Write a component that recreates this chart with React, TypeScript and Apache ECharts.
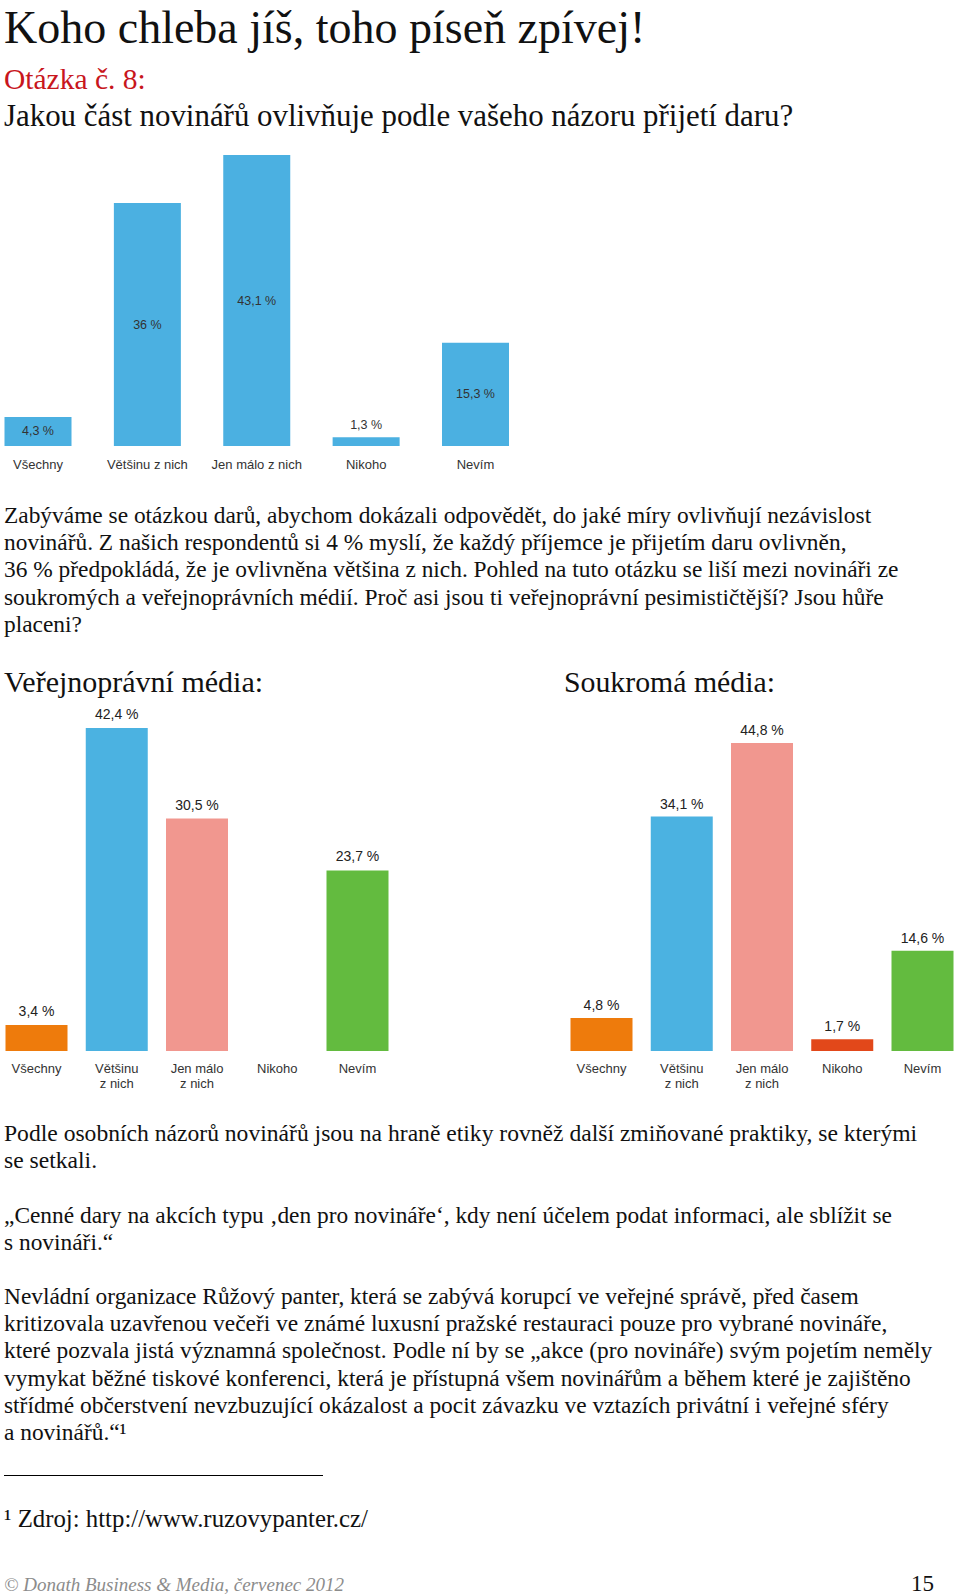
import React, { useEffect, useRef } from "react";
import * as echarts from "echarts";

const TITLE = "Koho chleba jíš, toho píseň zpívej!";
const QUESTION_NO = "Otázka č. 8:";
const QUESTION = "Jakou část novinářů ovlivňuje podle vašeho názoru přijetí daru?";
const PARA1 = [
  "Zabýváme se otázkou darů, abychom dokázali odpovědět, do jaké míry ovlivňují nezávislost",
  "novinářů. Z našich respondentů si 4 % myslí, že každý příjemce je přijetím daru ovlivněn,",
  "36 % předpokládá, že je ovlivněna většina z nich. Pohled na tuto otázku se liší mezi novináři ze",
  "soukromých a veřejnoprávních médií. Proč asi jsou ti veřejnoprávní pesimističtější? Jsou hůře",
  "placeni?",
];
const HEAD_PUBLIC = "Veřejnoprávní média:";
const HEAD_PRIVATE = "Soukromá média:";
const PARA2 = [
  "Podle osobních názorů novinářů jsou na hraně etiky rovněž další zmiňované praktiky, se kterými",
  "se setkali.",
];
const QUOTE = [
  "„Cenné dary na akcích typu ‚den pro novináře‘, kdy není účelem podat informaci, ale sblížit se",
  "s novináři.“",
];
const PARA3 = [
  "Nevládní organizace Růžový panter, která se zabývá korupcí ve veřejné správě, před časem",
  "kritizovala uzavřenou večeři ve známé luxusní pražské restauraci pouze pro vybrané novináře,",
  "které pozvala jistá významná společnost. Podle ní by se „akce (pro novináře) svým pojetím neměly",
  "vymykat běžné tiskové konferenci, která je přístupná všem novinářům a během které je zajištěno",
  "střídmé občerstvení nevzbuzující okázalost a pocit závazku ve vztazích privátní i veřejné sféry",
  "a novinářů.“¹",
];
const FOOTNOTE = "¹ Zdroj: http://www.ruzovypanter.cz/";
const FOOTER = "© Donath Business & Media, červenec 2012";
const PAGE_NO = "15";

const categoriesAll = ["Všechny", "Většinu z nich", "Jen málo z nich", "Nikoho", "Nevím"];
const categoriesSplit = ["Všechny", "Většinu\nz nich", "Jen málo\nz nich", "Nikoho", "Nevím"];
const valuesAll = [4.3, 36, 43.1, 1.3, 15.3];
const valuesPublic = [3.4, 42.4, 30.5, 0, 23.7];
const valuesPrivate = [4.8, 34.1, 44.8, 1.7, 14.6];

const BLUE_ALL = "#4BB0E1";
const SPLIT_COLORS = ["#EE7B0C", "#4BB2E1", "#F1978F", "#E2481A", "#63BB3F"];

const SERIF = "'Liberation Serif', 'Times New Roman', serif";
const SANS = "'Liberation Sans', Arial, sans-serif";

const fmt = (v: number) => (v === 0 ? "" : String(v).replace(".", ",") + " %");

function textEl(text: string, x: number, y: number, size: number, extra: any = {}) {
  return {
    type: "text",
    x,
    y,
    silent: true,
    style: {
      text,
      fontSize: size,
      fontFamily: SERIF,
      fill: "#111",
      align: "left",
      verticalAlign: "middle",
      ...extra,
    },
  };
}

function para(lines: string[], x: number, firstCenter: number, lh: number, size: number) {
  return lines.map((l, i) => textEl(l, x, firstCenter + i * lh, size));
}

export default function App() {
  const ref = useRef<HTMLDivElement>(null);
  useEffect(() => {
    if (!ref.current) return;
    const chart = echarts.init(ref.current, undefined, { renderer: "svg" });
    const PS = 23.4;
    const LH = 27.2;
    const graphic: any[] = [
      textEl(TITLE, 4, 27.5, 46),
      textEl(QUESTION_NO, 4, 79, 29.5, { fill: "#C8161D" }),
      textEl(QUESTION, 4, 115, 30.9),
      ...para(PARA1, 4, 515, LH, PS),
      textEl(HEAD_PUBLIC, 4, 681, 30),
      textEl(HEAD_PRIVATE, 564, 681, 29.8),
      ...para(PARA2, 4, 1133, LH, 23.6),
      ...para(QUOTE, 4, 1215, LH, PS),
      ...para(PARA3, 4, 1296, LH, PS),
      {
        type: "line",
        silent: true,
        shape: { x1: 4, y1: 1475.5, x2: 323, y2: 1475.5 },
        style: { stroke: "#000", lineWidth: 1 },
      },
      textEl(FOOTNOTE, 4, 1518, 24.8),
      textEl(FOOTER, 4, 1584, 19, { fill: "#8c8c8c", fontStyle: "italic" }),
      textEl(PAGE_NO, 934, 1583, 23, { align: "right" }),
    ];

    const hiddenY = (gi: number) => ({
      type: "value",
      gridIndex: gi,
      min: 0,
      max: 50,
      show: false,
    });
    const catX = (gi: number, data: string[], fs: number, margin: number, lh: number) => ({
      type: "category",
      gridIndex: gi,
      data,
      boundaryGap: false,
      axisLine: { show: false },
      axisTick: { show: false },
      axisLabel: {
        interval: 0,
        color: "#333",
        fontSize: fs,
        fontFamily: SANS,
        margin,
        lineHeight: lh,
      },
    });

    chart.setOption({
      animation: false,
      backgroundColor: "#fff",
      grid: [
        { left: 38, width: 437.5, top: 108.5, height: 337.5 },
        { left: 36.5, width: 321, top: 670, height: 381 },
        { left: 601.5, width: 321, top: 707.25, height: 343.75 },
      ],
      xAxis: [
        catX(0, categoriesAll, 13, 11, 15),
        catX(1, categoriesSplit, 13, 10, 15),
        catX(2, categoriesSplit, 13, 10, 15),
      ],
      yAxis: [hiddenY(0), hiddenY(1), hiddenY(2)],
      series: [
        {
          type: "bar",
          xAxisIndex: 0,
          yAxisIndex: 0,
          barWidth: 67,
          clip: false,
          itemStyle: { color: BLUE_ALL },
          label: {
            show: true,
            position: "inside",
            color: "#333",
            fontSize: 12.5,
            fontFamily: SANS,
            formatter: (p: any) => fmt(p.value),
          },
          data: valuesAll.map((v) =>
            v < 2 ? { value: v, label: { position: "top", distance: 6 } } : v
          ),
        },
        {
          type: "bar",
          xAxisIndex: 1,
          yAxisIndex: 1,
          barWidth: 62,
          clip: false,
          label: {
            show: true,
            position: "top",
            distance: 7,
            color: "#222",
            fontSize: 14,
            fontFamily: SANS,
            formatter: (p: any) => fmt(p.value),
          },
          data: valuesPublic.map((v, i) => ({ value: v, itemStyle: { color: SPLIT_COLORS[i] } })),
        },
        {
          type: "bar",
          xAxisIndex: 2,
          yAxisIndex: 2,
          barWidth: 62,
          clip: false,
          label: {
            show: true,
            position: "top",
            distance: 6,
            color: "#222",
            fontSize: 14,
            fontFamily: SANS,
            formatter: (p: any) => fmt(p.value),
          },
          data: valuesPrivate.map((v, i) => ({ value: v, itemStyle: { color: SPLIT_COLORS[i] } })),
        },
      ],
      graphic,
    });
    return () => chart.dispose();
  }, []);

  return (
    <div
      ref={ref}
      style={{ position: "absolute", left: 0, top: 0, width: 960, height: 1595, background: "#fff" }}
    />
  );
}
